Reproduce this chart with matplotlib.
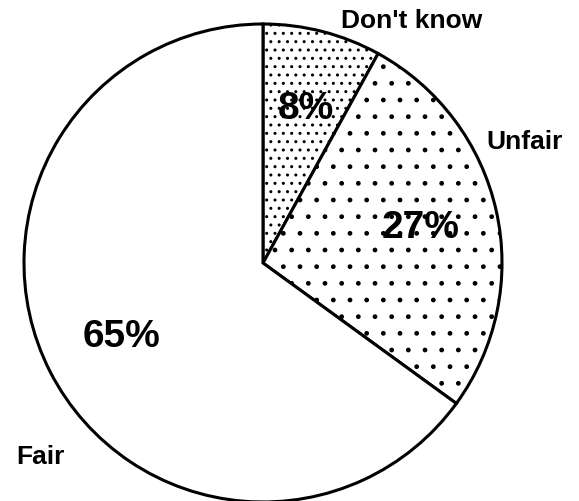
import matplotlib.pyplot as plt

plt.rcParams['font.family'] = ['Liberation Sans', 'DejaVu Sans']
plt.rcParams['hatch.linewidth'] = 1.0

# data
categories = ["Don't know", "Unfair", "Fair"]
shares = [8, 27, 65]
pct_labels = ["8%", "27%", "65%"]
hatches = ['..', '.', None]

W, H = 579, 501
fig = plt.figure(figsize=(W / 100, H / 100), dpi=100)
ax = fig.add_axes([0, 0, 1, 1])

cx, cy, r = 263, H - 263, 239
wedges, _ = ax.pie(shares, startangle=90, counterclock=False,
                   center=(cx, cy), radius=r, colors=['white'] * 3,
                   hatch=hatches, frame=True,
                   wedgeprops=dict(edgecolor='black', linewidth=2.2))
ax.set_xlim(0, W)
ax.set_ylim(0, H)
ax.set_aspect('equal')
ax.axis('off')

# label positions in pixels (from top-left)
name_pos = [(412, 21), (525, 142), (40, 457)]
pct_pos = [(306, 109), (421, 228), (121, 337)]

for name, (x, y) in zip(categories, name_pos):
    ax.text(x, H - y, name, ha='center', va='center', fontsize=19,
            fontweight='bold')
for p, (x, y) in zip(pct_labels, pct_pos):
    ax.text(x, H - y, p, ha='center', va='center', fontsize=28,
            fontweight='bold')

fig.savefig('out.png', dpi=100)
